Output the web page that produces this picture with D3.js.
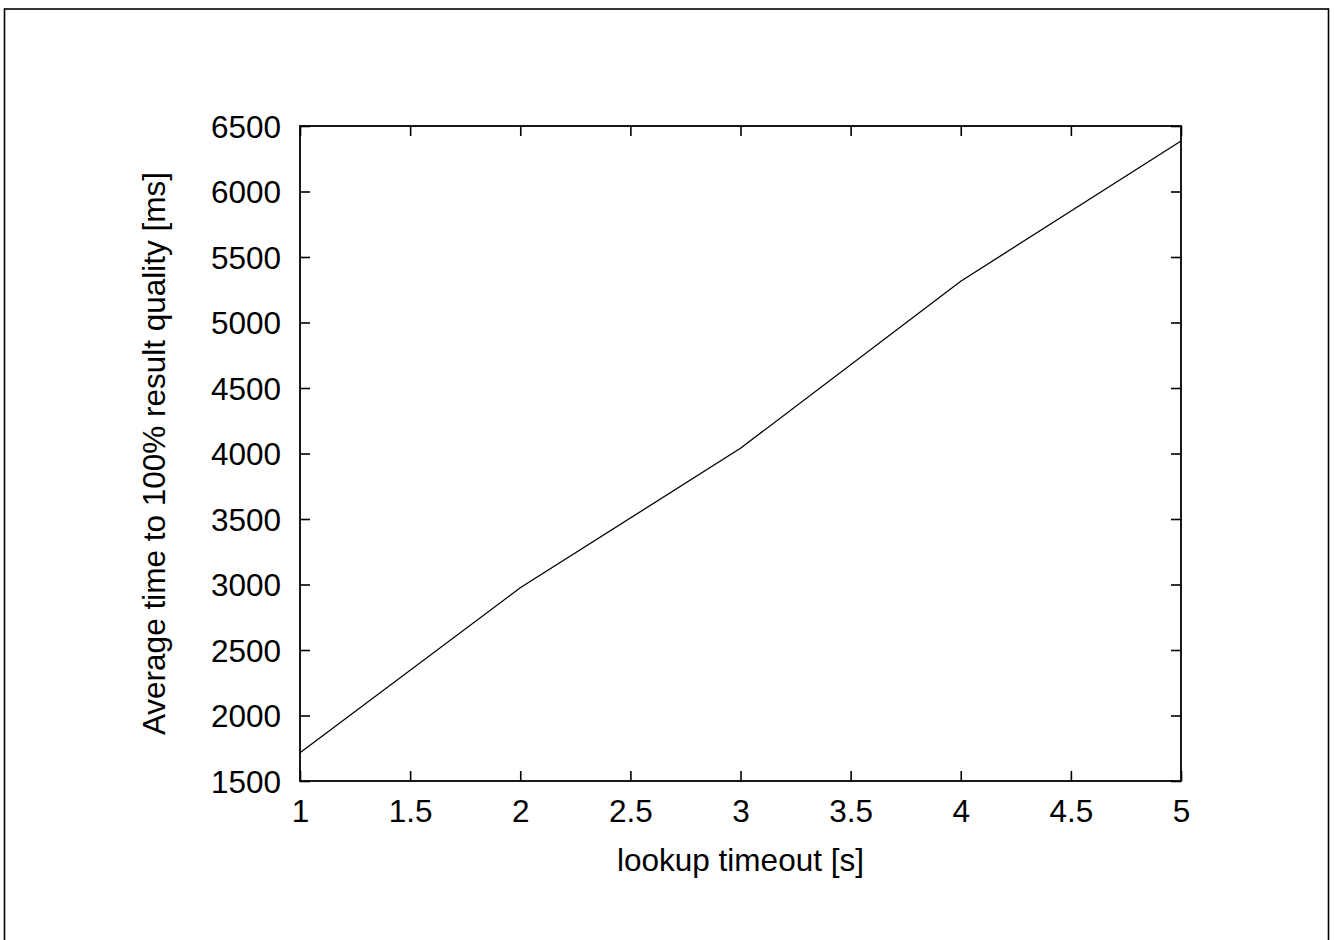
<!DOCTYPE html>
<html>
<head>
<meta charset="utf-8">
<script src="https://cdn.jsdelivr.net/npm/d3@7"></script>
<style>
  html, body { margin: 0; padding: 0; background: #fff; }
  svg { display: block; }
  text { font-family: "Liberation Sans", Arial, Helvetica, sans-serif; fill: #000; }
</style>
</head>
<body>
<svg id="chart" width="1335" height="940"></svg>
<script>
const timeouts = [1, 2, 3, 4, 5];
const avgTimes = [1715, 2975, 4040, 5315, 6385];
const xTicks = [1, 1.5, 2, 2.5, 3, 3.5, 4, 4.5, 5];
const yTicks = [1500, 2000, 2500, 3000, 3500, 4000, 4500, 5000, 5500, 6000, 6500];
const xTitle = "lookup timeout [s]";
const yTitle = "Average time to 100% result quality [ms]";

const svg = d3.select("#chart");
const pL = 300, pR = 1181, pT = 126, pB = 781;
const fs = 31.5;

svg.append("rect").attr("x", 4.5).attr("y", 9).attr("width", 1324).attr("height", 1000)
  .attr("fill", "none").attr("stroke", "#000").attr("stroke-width", 1.6);

const x = d3.scaleLinear().domain([1, 5]).range([pL, pR]);
const y = d3.scaleLinear().domain([1500, 6500]).range([pB, pT]);

const fmt = d => String(d);
const tickLen = 10;

const gx = svg.append("g").attr("transform", `translate(0,${pB})`)
  .call(d3.axisBottom(x).tickValues(xTicks).tickFormat(fmt).tickSizeInner(-tickLen).tickSizeOuter(0).tickPadding(19));
const gxt = svg.append("g").attr("transform", `translate(0,${pT})`)
  .call(d3.axisTop(x).tickValues(xTicks).tickFormat("").tickSizeInner(-tickLen).tickSizeOuter(0));
const gy = svg.append("g").attr("transform", `translate(${pL},0)`)
  .call(d3.axisLeft(y).tickValues(yTicks).tickFormat(fmt).tickSizeInner(-tickLen).tickSizeOuter(0).tickPadding(19));
const gyr = svg.append("g").attr("transform", `translate(${pR},0)`)
  .call(d3.axisRight(y).tickValues(yTicks).tickFormat("").tickSizeInner(-tickLen).tickSizeOuter(0));

[gx, gxt, gy, gyr].forEach(g => {
  g.select(".domain").remove();
  g.selectAll(".tick line").attr("stroke", "#000").attr("stroke-width", 1.6);
  g.selectAll("text").attr("font-size", fs).attr("font-family", '"Liberation Sans", Arial, sans-serif').attr("fill", "#000");
});
gx.selectAll(".tick text").attr("dy", "0.71em");
gy.selectAll(".tick text").attr("dy", "0.35em");

svg.append("rect").attr("x", pL).attr("y", pT).attr("width", pR - pL).attr("height", pB - pT)
  .attr("fill", "none").attr("stroke", "#000").attr("stroke-width", 1.8);

const data = timeouts.map((t, i) => [t, avgTimes[i]]);
svg.append("path").datum(data)
  .attr("fill", "none").attr("stroke", "#000").attr("stroke-width", 1.3)
  .attr("d", d3.line().x(d => x(d[0])).y(d => y(d[1])));

svg.append("text").attr("x", (pL + pR) / 2).attr("y", 871)
  .attr("text-anchor", "middle").attr("font-size", fs).text(xTitle);
svg.append("text").attr("transform", `translate(165,${(pT + pB) / 2}) rotate(-90)`)
  .attr("text-anchor", "middle").attr("font-size", fs).text(yTitle);
</script>
</body>
</html>
